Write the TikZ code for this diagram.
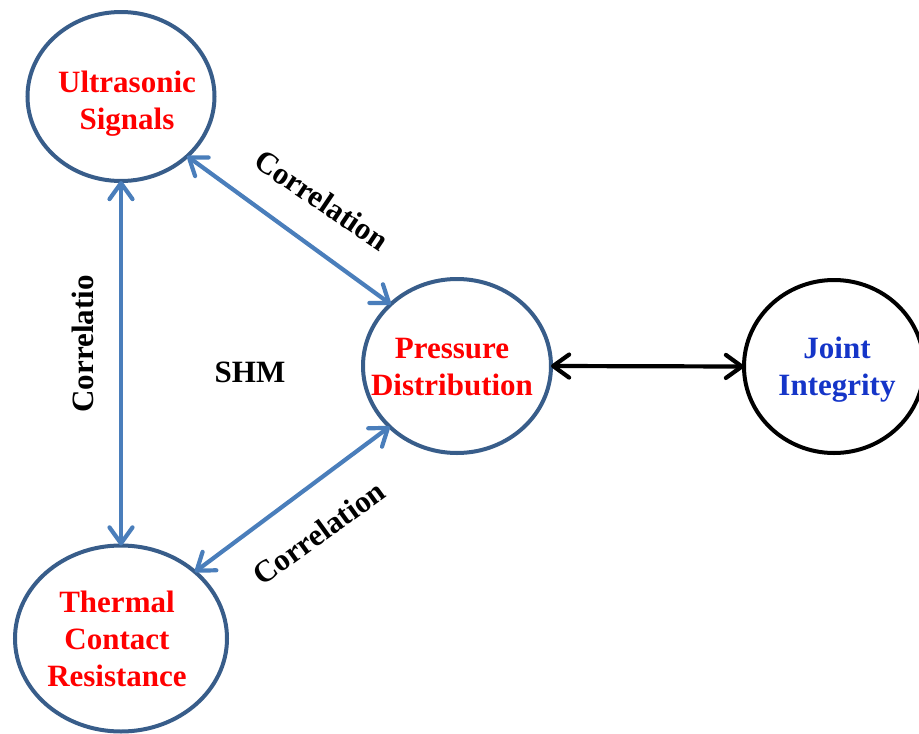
\documentclass[tikz,border=0pt]{standalone}
\usepackage{fontspec}
\setmainfont{Liberation Serif}
\usetikzlibrary{shapes.geometric,arrows.meta}
\definecolor{ringblue}{HTML}{385D8A}
\definecolor{arrowblue}{HTML}{4A7EBB}
\definecolor{textred}{HTML}{FF0000}
\definecolor{textblue}{HTML}{1535C8}
\tikzset{
  ring/.style={ellipse, draw=ringblue, line width=4pt, inner sep=0pt, outer sep=0pt},
  blackring/.style={ellipse, draw=black, line width=4pt, inner sep=0pt, outer sep=0pt},
  bigtext/.style={font=\bfseries\fontsize{31}{37}\selectfont, align=center, inner sep=0pt},
  redtext/.style={bigtext, text=textred},
  bluetext/.style={bigtext, text=textblue},
  labeltext/.style={bigtext, text=black},
  barb/.tip={Straight Barb[length=16pt,width=23pt,round]},
  link/.style={draw=arrowblue, line width=4.2pt, barb-barb},
  blacklink/.style={draw=black, line width=4.2pt, barb-barb},
}
\begin{document}
\begin{tikzpicture}[x=1pt,y=-1pt]
\useasboundingbox (0,0) rectangle (919,734);
% circles
\node[ring, minimum width=187pt, minimum height=169pt] (us) at (121,96.5) {};
\node[ring, minimum width=212pt, minimum height=186pt] (th) at (121,638.5) {};
\node[ring, minimum width=188pt, minimum height=174pt] (pd) at (457,366) {};
\node[blackring, minimum width=180pt, minimum height=173pt] (ji) at (834,366.5) {};
% texts in circles
\node[redtext] (ust) at (127,104) {Ultrasonic\\Signals};
\node[redtext] (tht) at (117,638.5) {Thermal\\Contact\\Resistance};
\node[redtext] (pdt) at (452,367) {Pressure\\Distribution};
\node[bluetext] (jit) at (837,370) {Joint\\Integrity};
% connectors
\draw[link] (us.south) -- (th.north);
\draw[link] (us.-42.4) -- (pd.137.6);
\draw[link] (pd.-138) -- (th.42.6);
\draw[blacklink] (pd.east) -- (ji.west);
% labels
\node[labeltext, rotate=-34] (l1) at (322,200) {Correlation};
\node[labeltext, rotate=36] (l2) at (319,533) {Correlation};
\node[labeltext, rotate=90] (l3) at (83,344) {Correlatio};
\node[labeltext] (shm) at (250,372) {SHM};
\end{tikzpicture}
\end{document}
